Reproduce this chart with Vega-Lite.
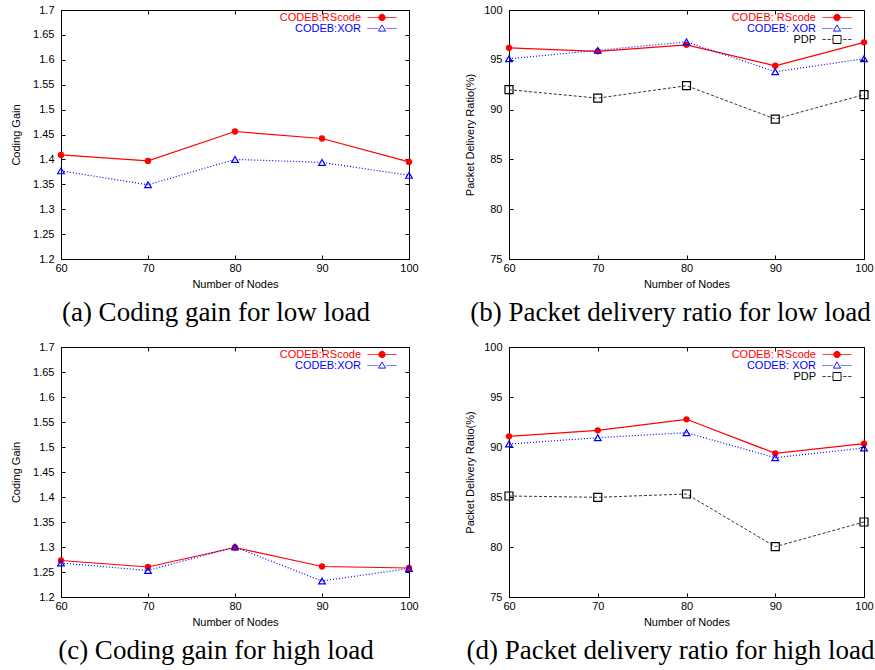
{
  "$schema": "https://vega.github.io/schema/vega-lite/v6.json",
  "background": "white",
  "padding": {"left": 10, "top": 3, "right": 0, "bottom": 0},
  "datasets": {
    "a": [
      {"nodes": 60, "series": "CODEB:RScode", "value": 1.409},
      {"nodes": 70, "series": "CODEB:RScode", "value": 1.397},
      {"nodes": 80, "series": "CODEB:RScode", "value": 1.456},
      {"nodes": 90, "series": "CODEB:RScode", "value": 1.442},
      {"nodes": 100, "series": "CODEB:RScode", "value": 1.395},
      {"nodes": 60, "series": "CODEB:XOR", "value": 1.377},
      {"nodes": 70, "series": "CODEB:XOR", "value": 1.349},
      {"nodes": 80, "series": "CODEB:XOR", "value": 1.400},
      {"nodes": 90, "series": "CODEB:XOR", "value": 1.394},
      {"nodes": 100, "series": "CODEB:XOR", "value": 1.368}
    ],
    "b": [
      {"nodes": 60, "series": "CODEB: RScode", "value": 96.2},
      {"nodes": 70, "series": "CODEB: RScode", "value": 95.85},
      {"nodes": 80, "series": "CODEB: RScode", "value": 96.5},
      {"nodes": 90, "series": "CODEB: RScode", "value": 94.4},
      {"nodes": 100, "series": "CODEB: RScode", "value": 96.75},
      {"nodes": 60, "series": "CODEB: XOR", "value": 95.1},
      {"nodes": 70, "series": "CODEB: XOR", "value": 95.95},
      {"nodes": 80, "series": "CODEB: XOR", "value": 96.8},
      {"nodes": 90, "series": "CODEB: XOR", "value": 93.8},
      {"nodes": 100, "series": "CODEB: XOR", "value": 95.1},
      {"nodes": 60, "series": "PDP", "value": 92.0},
      {"nodes": 70, "series": "PDP", "value": 91.15},
      {"nodes": 80, "series": "PDP", "value": 92.4},
      {"nodes": 90, "series": "PDP", "value": 89.05},
      {"nodes": 100, "series": "PDP", "value": 91.5}
    ],
    "c": [
      {"nodes": 60, "series": "CODEB:RScode", "value": 1.273},
      {"nodes": 70, "series": "CODEB:RScode", "value": 1.26},
      {"nodes": 80, "series": "CODEB:RScode", "value": 1.299},
      {"nodes": 90, "series": "CODEB:RScode", "value": 1.261},
      {"nodes": 100, "series": "CODEB:RScode", "value": 1.258},
      {"nodes": 60, "series": "CODEB:XOR", "value": 1.268},
      {"nodes": 70, "series": "CODEB:XOR", "value": 1.253},
      {"nodes": 80, "series": "CODEB:XOR", "value": 1.300},
      {"nodes": 90, "series": "CODEB:XOR", "value": 1.232},
      {"nodes": 100, "series": "CODEB:XOR", "value": 1.257}
    ],
    "d": [
      {"nodes": 60, "series": "CODEB: RScode", "value": 91.07},
      {"nodes": 70, "series": "CODEB: RScode", "value": 91.67},
      {"nodes": 80, "series": "CODEB: RScode", "value": 92.77},
      {"nodes": 90, "series": "CODEB: RScode", "value": 89.37},
      {"nodes": 100, "series": "CODEB: RScode", "value": 90.33},
      {"nodes": 60, "series": "CODEB: XOR", "value": 90.3},
      {"nodes": 70, "series": "CODEB: XOR", "value": 90.93},
      {"nodes": 80, "series": "CODEB: XOR", "value": 91.43},
      {"nodes": 90, "series": "CODEB: XOR", "value": 88.93},
      {"nodes": 100, "series": "CODEB: XOR", "value": 89.9},
      {"nodes": 60, "series": "PDP", "value": 85.1},
      {"nodes": 70, "series": "PDP", "value": 84.97},
      {"nodes": 80, "series": "PDP", "value": 85.3},
      {"nodes": 90, "series": "PDP", "value": 80.03},
      {"nodes": 100, "series": "PDP", "value": 82.5}
    ]
  },
  "columns": 2,
  "spacing": {"row": 88, "column": 100},
  "bounds": "flush",
  "resolve": {
    "scale": {"x": "independent", "y": "independent", "color": "independent"},
    "legend": {"color": "independent"}
  },
  "concat": [
    {
      "width": 348, "height": 249,
      "data": {"name": "a"},
      "title": {"text": "(a) Coding gain for low load", "orient": "bottom", "anchor": "middle", "font": "Liberation Serif", "fontSize": 27, "fontWeight": "normal", "color": "black", "offset": 11, "dx": -19},
      "layer": [
        {
          "transform": [{"filter": "datum.series == 'CODEB:RScode'"}],
          "mark": {"type": "line", "strokeWidth": 1.2},
          "encoding": {
            "x": {"field": "nodes", "type": "quantitative", "scale": {"domain": [60, 100], "nice": false}, "axis": {"values": [60, 70, 80, 90, 100], "title": "Number of Nodes", "orient": "bottom"}},
            "y": {"field": "value", "type": "quantitative", "scale": {"domain": [1.2, 1.7], "nice": false, "zero": false}, "axis": {"values": [1.2, 1.25, 1.3, 1.35, 1.4, 1.45, 1.5, 1.55, 1.6, 1.65, 1.7], "format": "~g", "title": "Coding Gain", "orient": "left", "titlePadding": 11}},
            "color": {"field": "series", "type": "nominal", "scale": {"domain": ["CODEB:RScode", "CODEB:XOR"], "range": ["#ff0000", "#0000ff"]},
              "legend": {"orient": "none", "legendX": 321, "legendY": 2, "title": null, "padding": 0, "rowPadding": -1, "symbolSize": 64, "labelFont": "Liberation Sans", "labelFontSize": 11,
                "encode": {
                  "symbols": {"update": {"x": {"value": 0}, "size": {"value": 64}, "strokeWidth": {"value": 1}, "opacity": {"value": 1}, "strokeDash": {"value": [1, 0]},
                    "shape": {"signal": "datum.value == 'CODEB:RScode' ? 'M-3.6,0L3.6,0M-0.8,0A0.8,0.8,0,1,1,0.8,0A0.8,0.8,0,1,1,-0.8,0Z' : 'M-3.6,0L-3.35,0M-3.1,0L-2.85,0M-2.6,0L-2.35,0M-2.1,0L-1.85,0M-1.6,0L-1.35,0M-1.1,0L-0.95,0M0.95,0L1.1,0M1.35,0L1.6,0M1.85,0L2.1,0M2.35,0L2.6,0M2.85,0L3.1,0M3.35,0L3.6,0M0,-0.9L0.9,0.65L-0.9,0.65Z'"},
                    "fill": {"signal": "datum.value == 'CODEB:RScode' ? '#ff0000' : 'transparent'"},
                    "stroke": {"signal": "datum.value == 'CODEB:RScode' ? '#ff0000' : '#0000ff'"}}},
                  "labels": {"update": {"x": {"value": -21}, "align": {"value": "right"},
                    "fill": {"signal": "datum.value == 'CODEB:RScode' ? '#ff0000' : '#0000ff'"}}}
                }}}
          }
        },
        {
          "transform": [{"filter": "datum.series == 'CODEB:XOR'"}],
          "mark": {"type": "line", "strokeWidth": 1.2, "color": "#0000ff", "strokeDash": [1, 2]},
          "encoding": {
            "x": {"field": "nodes", "type": "quantitative", "scale": {"domain": [60, 100], "nice": false}, "axis": null},
            "y": {"field": "value", "type": "quantitative", "scale": {"domain": [1.2, 1.7], "nice": false, "zero": false}, "axis": null}
          }
        },
        {
          "transform": [{"filter": "datum.series == 'CODEB:RScode'"}],
          "mark": {"type": "point", "shape": "circle", "filled": true, "color": "#ff0000", "size": 40, "opacity": 1},
          "encoding": {
            "x": {"field": "nodes", "type": "quantitative", "scale": {"domain": [60, 100], "nice": false}, "axis": {"values": [60, 70, 80, 90, 100], "title": null, "labels": false, "domain": false, "orient": "top"}},
            "y": {"field": "value", "type": "quantitative", "scale": {"domain": [1.2, 1.7], "nice": false, "zero": false}, "axis": {"values": [1.2, 1.25, 1.3, 1.35, 1.4, 1.45, 1.5, 1.55, 1.6, 1.65, 1.7], "title": null, "labels": false, "domain": false, "orient": "right"}}
          }
        },
        {
          "transform": [{"filter": "datum.series == 'CODEB:XOR'"}],
          "mark": {"type": "point", "shape": "triangle-up", "filled": false, "color": "#0000ff", "size": 45, "opacity": 1, "strokeWidth": 1.2},
          "encoding": {
            "x": {"field": "nodes", "type": "quantitative", "scale": {"domain": [60, 100], "nice": false}, "axis": null},
            "y": {"field": "value", "type": "quantitative", "scale": {"domain": [1.2, 1.7], "nice": false, "zero": false}, "axis": null}
          }
        }
      ],
      "resolve": {"axis": {"x": "independent", "y": "independent"}}
    },
    {
      "width": 355, "height": 249,
      "data": {"name": "b"},
      "title": {"text": "(b) Packet delivery ratio for low load", "orient": "bottom", "anchor": "middle", "font": "Liberation Serif", "fontSize": 27, "fontWeight": "normal", "color": "black", "offset": 11, "dx": -16},
      "layer": [
        {
          "transform": [{"filter": "datum.series == 'CODEB: RScode'"}],
          "mark": {"type": "line", "strokeWidth": 1.2},
          "encoding": {
            "x": {"field": "nodes", "type": "quantitative", "scale": {"domain": [60, 100], "nice": false}, "axis": {"values": [60, 70, 80, 90, 100], "title": "Number of Nodes", "orient": "bottom"}},
            "y": {"field": "value", "type": "quantitative", "scale": {"domain": [75, 100], "nice": false, "zero": false}, "axis": {"values": [75, 80, 85, 90, 95, 100], "title": "Packet Delivery Ratio(%)", "orient": "left", "titlePadding": 8}},
            "color": {"field": "series", "type": "nominal", "scale": {"domain": ["CODEB: RScode", "CODEB: XOR", "PDP"], "range": ["#ff0000", "#0000ff", "#000000"]},
              "legend": {"orient": "none", "legendX": 328, "legendY": 2, "title": null, "padding": 0, "rowPadding": -1, "symbolSize": 64, "labelFont": "Liberation Sans", "labelFontSize": 11,
                "encode": {
                  "symbols": {"update": {"x": {"value": 0}, "size": {"value": 64}, "strokeWidth": {"value": 1}, "opacity": {"value": 1}, "strokeDash": {"value": [1, 0]},
                    "shape": {"signal": "datum.value == 'CODEB: RScode' ? 'M-3.6,0L3.6,0M-0.8,0A0.8,0.8,0,1,1,0.8,0A0.8,0.8,0,1,1,-0.8,0Z' : datum.value == 'CODEB: XOR' ? 'M-3.6,0L-3.35,0M-3.1,0L-2.85,0M-2.6,0L-2.35,0M-2.1,0L-1.85,0M-1.6,0L-1.35,0M-1.1,0L-0.95,0M0.95,0L1.1,0M1.35,0L1.6,0M1.85,0L2.1,0M2.35,0L2.6,0M2.85,0L3.1,0M3.35,0L3.6,0M0,-0.9L0.9,0.65L-0.9,0.65Z' : 'M-3.6,0L-2.85,0M-2.35,0L-1.6,0M-1.1,0L-1,0M1,0L1.1,0M1.6,0L2.35,0M2.85,0L3.6,0M-1,-1L1,-1L1,1L-1,1Z'"},
                    "fill": {"signal": "datum.value == 'CODEB: RScode' ? '#ff0000' : 'transparent'"},
                    "stroke": {"signal": "datum.value == 'CODEB: RScode' ? '#ff0000' : datum.value == 'CODEB: XOR' ? '#0000ff' : '#000000'"}}},
                  "labels": {"update": {"x": {"value": -21}, "align": {"value": "right"},
                    "fill": {"signal": "datum.value == 'CODEB: RScode' ? '#ff0000' : datum.value == 'CODEB: XOR' ? '#0000ff' : '#000000'"}}}
                }}}
          }
        },
        {
          "transform": [{"filter": "datum.series == 'CODEB: XOR'"}],
          "mark": {"type": "line", "strokeWidth": 1.2, "color": "#0000ff", "strokeDash": [1, 2]},
          "encoding": {
            "x": {"field": "nodes", "type": "quantitative", "scale": {"domain": [60, 100], "nice": false}, "axis": null},
            "y": {"field": "value", "type": "quantitative", "scale": {"domain": [75, 100], "nice": false, "zero": false}, "axis": null}
          }
        },
        {
          "transform": [{"filter": "datum.series == 'PDP'"}],
          "mark": {"type": "line", "strokeWidth": 1, "color": "#333333", "strokeDash": [3, 2]},
          "encoding": {
            "x": {"field": "nodes", "type": "quantitative", "scale": {"domain": [60, 100], "nice": false}, "axis": null},
            "y": {"field": "value", "type": "quantitative", "scale": {"domain": [75, 100], "nice": false, "zero": false}, "axis": null}
          }
        },
        {
          "transform": [{"filter": "datum.series == 'CODEB: RScode'"}],
          "mark": {"type": "point", "shape": "circle", "filled": true, "color": "#ff0000", "size": 40, "opacity": 1},
          "encoding": {
            "x": {"field": "nodes", "type": "quantitative", "scale": {"domain": [60, 100], "nice": false}, "axis": {"values": [60, 70, 80, 90, 100], "title": null, "labels": false, "domain": false, "orient": "top"}},
            "y": {"field": "value", "type": "quantitative", "scale": {"domain": [75, 100], "nice": false, "zero": false}, "axis": {"values": [75, 80, 85, 90, 95, 100], "title": null, "labels": false, "domain": false, "orient": "right"}}
          }
        },
        {
          "transform": [{"filter": "datum.series == 'CODEB: XOR'"}],
          "mark": {"type": "point", "shape": "triangle-up", "filled": false, "color": "#0000ff", "size": 45, "opacity": 1, "strokeWidth": 1.2},
          "encoding": {
            "x": {"field": "nodes", "type": "quantitative", "scale": {"domain": [60, 100], "nice": false}, "axis": null},
            "y": {"field": "value", "type": "quantitative", "scale": {"domain": [75, 100], "nice": false, "zero": false}, "axis": null}
          }
        },
        {
          "transform": [{"filter": "datum.series == 'PDP'"}],
          "mark": {"type": "point", "shape": "square", "filled": false, "color": "#000000", "size": 64, "opacity": 1, "strokeWidth": 1.2},
          "encoding": {
            "x": {"field": "nodes", "type": "quantitative", "scale": {"domain": [60, 100], "nice": false}, "axis": null},
            "y": {"field": "value", "type": "quantitative", "scale": {"domain": [75, 100], "nice": false, "zero": false}, "axis": null}
          }
        }
      ],
      "resolve": {"axis": {"x": "independent", "y": "independent"}}
    },
    {
      "width": 348, "height": 250,
      "data": {"name": "c"},
      "title": {"text": "(c) Coding gain for high load", "orient": "bottom", "anchor": "middle", "font": "Liberation Serif", "fontSize": 27, "fontWeight": "normal", "color": "black", "offset": 11, "dx": -19},
      "layer": [
        {
          "transform": [{"filter": "datum.series == 'CODEB:RScode'"}],
          "mark": {"type": "line", "strokeWidth": 1.2},
          "encoding": {
            "x": {"field": "nodes", "type": "quantitative", "scale": {"domain": [60, 100], "nice": false}, "axis": {"values": [60, 70, 80, 90, 100], "title": "Number of Nodes", "orient": "bottom"}},
            "y": {"field": "value", "type": "quantitative", "scale": {"domain": [1.2, 1.7], "nice": false, "zero": false}, "axis": {"values": [1.2, 1.25, 1.3, 1.35, 1.4, 1.45, 1.5, 1.55, 1.6, 1.65, 1.7], "format": "~g", "title": "Coding Gain", "orient": "left", "titlePadding": 11}},
            "color": {"field": "series", "type": "nominal", "scale": {"domain": ["CODEB:RScode", "CODEB:XOR"], "range": ["#ff0000", "#0000ff"]},
              "legend": {"orient": "none", "legendX": 321, "legendY": 2, "title": null, "padding": 0, "rowPadding": -1, "symbolSize": 64, "labelFont": "Liberation Sans", "labelFontSize": 11,
                "encode": {
                  "symbols": {"update": {"x": {"value": 0}, "size": {"value": 64}, "strokeWidth": {"value": 1}, "opacity": {"value": 1}, "strokeDash": {"value": [1, 0]},
                    "shape": {"signal": "datum.value == 'CODEB:RScode' ? 'M-3.6,0L3.6,0M-0.8,0A0.8,0.8,0,1,1,0.8,0A0.8,0.8,0,1,1,-0.8,0Z' : 'M-3.6,0L-3.35,0M-3.1,0L-2.85,0M-2.6,0L-2.35,0M-2.1,0L-1.85,0M-1.6,0L-1.35,0M-1.1,0L-0.95,0M0.95,0L1.1,0M1.35,0L1.6,0M1.85,0L2.1,0M2.35,0L2.6,0M2.85,0L3.1,0M3.35,0L3.6,0M0,-0.9L0.9,0.65L-0.9,0.65Z'"},
                    "fill": {"signal": "datum.value == 'CODEB:RScode' ? '#ff0000' : 'transparent'"},
                    "stroke": {"signal": "datum.value == 'CODEB:RScode' ? '#ff0000' : '#0000ff'"}}},
                  "labels": {"update": {"x": {"value": -21}, "align": {"value": "right"},
                    "fill": {"signal": "datum.value == 'CODEB:RScode' ? '#ff0000' : '#0000ff'"}}}
                }}}
          }
        },
        {
          "transform": [{"filter": "datum.series == 'CODEB:XOR'"}],
          "mark": {"type": "line", "strokeWidth": 1.2, "color": "#0000ff", "strokeDash": [1, 2]},
          "encoding": {
            "x": {"field": "nodes", "type": "quantitative", "scale": {"domain": [60, 100], "nice": false}, "axis": null},
            "y": {"field": "value", "type": "quantitative", "scale": {"domain": [1.2, 1.7], "nice": false, "zero": false}, "axis": null}
          }
        },
        {
          "transform": [{"filter": "datum.series == 'CODEB:RScode'"}],
          "mark": {"type": "point", "shape": "circle", "filled": true, "color": "#ff0000", "size": 40, "opacity": 1},
          "encoding": {
            "x": {"field": "nodes", "type": "quantitative", "scale": {"domain": [60, 100], "nice": false}, "axis": {"values": [60, 70, 80, 90, 100], "title": null, "labels": false, "domain": false, "orient": "top"}},
            "y": {"field": "value", "type": "quantitative", "scale": {"domain": [1.2, 1.7], "nice": false, "zero": false}, "axis": {"values": [1.2, 1.25, 1.3, 1.35, 1.4, 1.45, 1.5, 1.55, 1.6, 1.65, 1.7], "title": null, "labels": false, "domain": false, "orient": "right"}}
          }
        },
        {
          "transform": [{"filter": "datum.series == 'CODEB:XOR'"}],
          "mark": {"type": "point", "shape": "triangle-up", "filled": false, "color": "#0000ff", "size": 45, "opacity": 1, "strokeWidth": 1.2},
          "encoding": {
            "x": {"field": "nodes", "type": "quantitative", "scale": {"domain": [60, 100], "nice": false}, "axis": null},
            "y": {"field": "value", "type": "quantitative", "scale": {"domain": [1.2, 1.7], "nice": false, "zero": false}, "axis": null}
          }
        }
      ],
      "resolve": {"axis": {"x": "independent", "y": "independent"}}
    },
    {
      "width": 355, "height": 250,
      "data": {"name": "d"},
      "title": {"text": "(d) Packet delivery ratio for high load", "orient": "bottom", "anchor": "middle", "font": "Liberation Serif", "fontSize": 27, "fontWeight": "normal", "color": "black", "offset": 11, "dx": -16},
      "layer": [
        {
          "transform": [{"filter": "datum.series == 'CODEB: RScode'"}],
          "mark": {"type": "line", "strokeWidth": 1.2},
          "encoding": {
            "x": {"field": "nodes", "type": "quantitative", "scale": {"domain": [60, 100], "nice": false}, "axis": {"values": [60, 70, 80, 90, 100], "title": "Number of Nodes", "orient": "bottom"}},
            "y": {"field": "value", "type": "quantitative", "scale": {"domain": [75, 100], "nice": false, "zero": false}, "axis": {"values": [75, 80, 85, 90, 95, 100], "title": "Packet Delivery Ratio(%)", "orient": "left", "titlePadding": 8}},
            "color": {"field": "series", "type": "nominal", "scale": {"domain": ["CODEB: RScode", "CODEB: XOR", "PDP"], "range": ["#ff0000", "#0000ff", "#000000"]},
              "legend": {"orient": "none", "legendX": 328, "legendY": 2, "title": null, "padding": 0, "rowPadding": -1, "symbolSize": 64, "labelFont": "Liberation Sans", "labelFontSize": 11,
                "encode": {
                  "symbols": {"update": {"x": {"value": 0}, "size": {"value": 64}, "strokeWidth": {"value": 1}, "opacity": {"value": 1}, "strokeDash": {"value": [1, 0]},
                    "shape": {"signal": "datum.value == 'CODEB: RScode' ? 'M-3.6,0L3.6,0M-0.8,0A0.8,0.8,0,1,1,0.8,0A0.8,0.8,0,1,1,-0.8,0Z' : datum.value == 'CODEB: XOR' ? 'M-3.6,0L-3.35,0M-3.1,0L-2.85,0M-2.6,0L-2.35,0M-2.1,0L-1.85,0M-1.6,0L-1.35,0M-1.1,0L-0.95,0M0.95,0L1.1,0M1.35,0L1.6,0M1.85,0L2.1,0M2.35,0L2.6,0M2.85,0L3.1,0M3.35,0L3.6,0M0,-0.9L0.9,0.65L-0.9,0.65Z' : 'M-3.6,0L-2.85,0M-2.35,0L-1.6,0M-1.1,0L-1,0M1,0L1.1,0M1.6,0L2.35,0M2.85,0L3.6,0M-1,-1L1,-1L1,1L-1,1Z'"},
                    "fill": {"signal": "datum.value == 'CODEB: RScode' ? '#ff0000' : 'transparent'"},
                    "stroke": {"signal": "datum.value == 'CODEB: RScode' ? '#ff0000' : datum.value == 'CODEB: XOR' ? '#0000ff' : '#000000'"}}},
                  "labels": {"update": {"x": {"value": -21}, "align": {"value": "right"},
                    "fill": {"signal": "datum.value == 'CODEB: RScode' ? '#ff0000' : datum.value == 'CODEB: XOR' ? '#0000ff' : '#000000'"}}}
                }}}
          }
        },
        {
          "transform": [{"filter": "datum.series == 'CODEB: XOR'"}],
          "mark": {"type": "line", "strokeWidth": 1.2, "color": "#0000ff", "strokeDash": [1, 2]},
          "encoding": {
            "x": {"field": "nodes", "type": "quantitative", "scale": {"domain": [60, 100], "nice": false}, "axis": null},
            "y": {"field": "value", "type": "quantitative", "scale": {"domain": [75, 100], "nice": false, "zero": false}, "axis": null}
          }
        },
        {
          "transform": [{"filter": "datum.series == 'PDP'"}],
          "mark": {"type": "line", "strokeWidth": 1, "color": "#333333", "strokeDash": [3, 2]},
          "encoding": {
            "x": {"field": "nodes", "type": "quantitative", "scale": {"domain": [60, 100], "nice": false}, "axis": null},
            "y": {"field": "value", "type": "quantitative", "scale": {"domain": [75, 100], "nice": false, "zero": false}, "axis": null}
          }
        },
        {
          "transform": [{"filter": "datum.series == 'CODEB: RScode'"}],
          "mark": {"type": "point", "shape": "circle", "filled": true, "color": "#ff0000", "size": 40, "opacity": 1},
          "encoding": {
            "x": {"field": "nodes", "type": "quantitative", "scale": {"domain": [60, 100], "nice": false}, "axis": {"values": [60, 70, 80, 90, 100], "title": null, "labels": false, "domain": false, "orient": "top"}},
            "y": {"field": "value", "type": "quantitative", "scale": {"domain": [75, 100], "nice": false, "zero": false}, "axis": {"values": [75, 80, 85, 90, 95, 100], "title": null, "labels": false, "domain": false, "orient": "right"}}
          }
        },
        {
          "transform": [{"filter": "datum.series == 'CODEB: XOR'"}],
          "mark": {"type": "point", "shape": "triangle-up", "filled": false, "color": "#0000ff", "size": 45, "opacity": 1, "strokeWidth": 1.2},
          "encoding": {
            "x": {"field": "nodes", "type": "quantitative", "scale": {"domain": [60, 100], "nice": false}, "axis": null},
            "y": {"field": "value", "type": "quantitative", "scale": {"domain": [75, 100], "nice": false, "zero": false}, "axis": null}
          }
        },
        {
          "transform": [{"filter": "datum.series == 'PDP'"}],
          "mark": {"type": "point", "shape": "square", "filled": false, "color": "#000000", "size": 64, "opacity": 1, "strokeWidth": 1.2},
          "encoding": {
            "x": {"field": "nodes", "type": "quantitative", "scale": {"domain": [60, 100], "nice": false}, "axis": null},
            "y": {"field": "value", "type": "quantitative", "scale": {"domain": [75, 100], "nice": false, "zero": false}, "axis": null}
          }
        }
      ],
      "resolve": {"axis": {"x": "independent", "y": "independent"}}
    }
  ],
  "config": {
    "view": {"stroke": "#000000", "strokeWidth": 1},
    "axis": {"labelFont": "Liberation Sans", "labelFontSize": 11, "titleFont": "Liberation Sans", "titleFontSize": 11, "titleFontWeight": "normal", "labelColor": "#000000", "titleColor": "#000000", "domainColor": "#000000", "tickColor": "#000000", "tickSize": -4, "grid": false, "labelFlush": false, "labelOverlap": false},
    "axisX": {"labelPadding": 7, "titlePadding": 5},
    "axisY": {"labelPadding": 11}
  }
}
